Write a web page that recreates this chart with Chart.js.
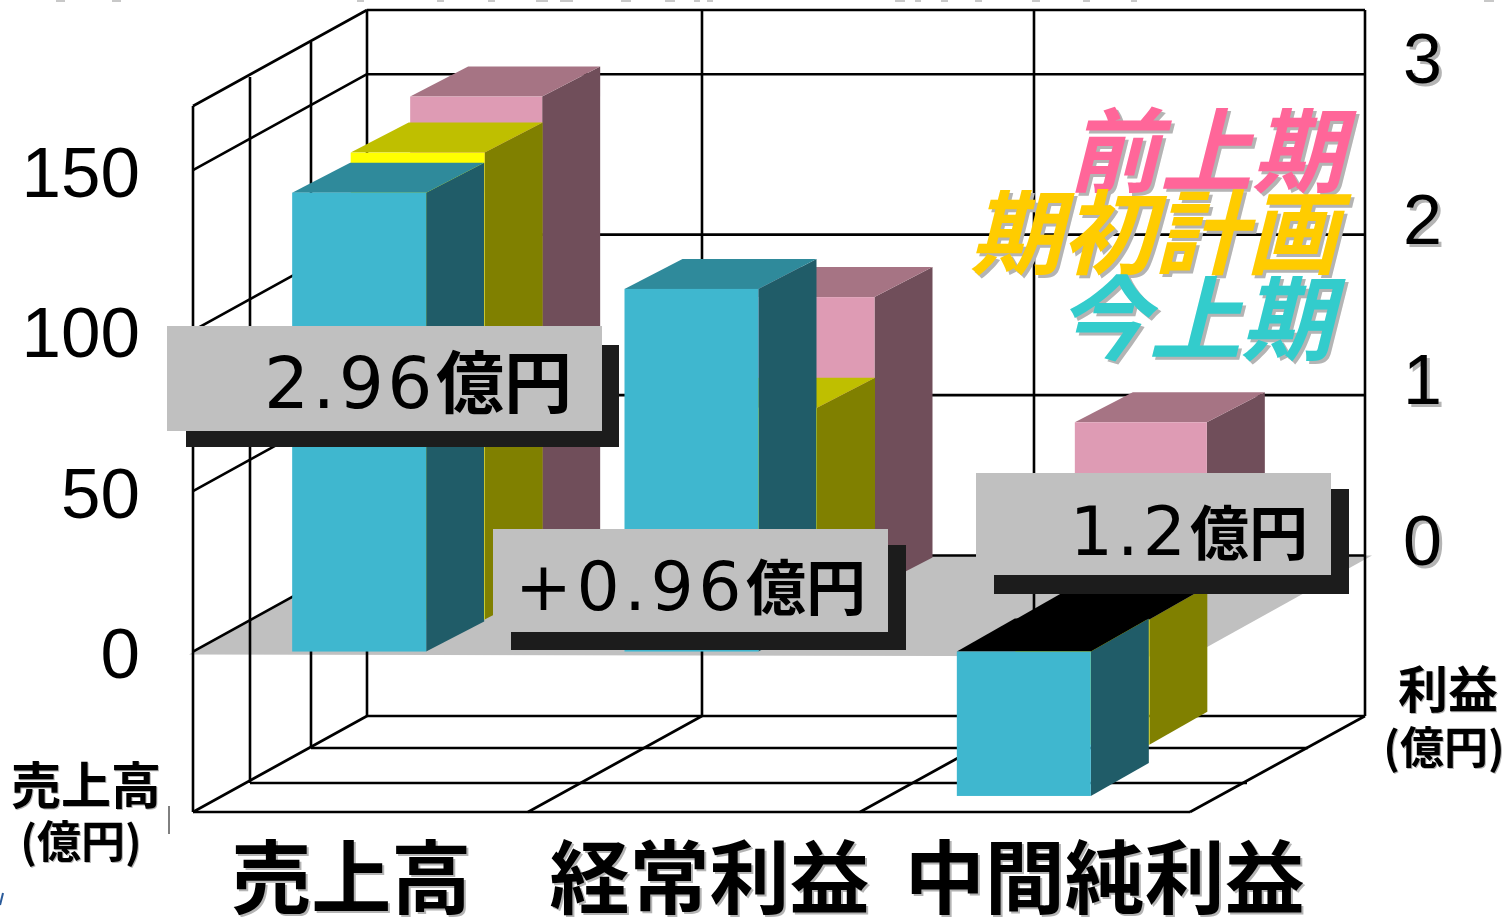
<!DOCTYPE html>
<html lang="ja">
<head>
<meta charset="utf-8">
<title>業績グラフ</title>
<script src="https://cdn.jsdelivr.net/npm/chart.js@4"></script>
<style>
  html, body { margin: 0; padding: 0; background: #fff; overflow: hidden; }
  #wrap { position: relative; width: 1506px; height: 917px; }
</style>
</head>
<body>
<div id="wrap"><canvas id="resultChart"></canvas></div>
<script>
const categories = ['売上高', '経常利益', '中間純利益'];
const seriesLabels = ['今上期', '期初計画', '前上期'];

// sales on the left axis, profits on the right axis
const salesNow = [143, null, null];
const salesPlan = [145.5, null, null];
const salesPrev = [153, null, null];
const profitNow = [null, 2.26, -0.9];
const profitPlan = [null, 1.32, -0.78];
const profitPrev = [null, 1.81, 1.03];

const salesTicks = [-50, 0, 50, 100, 150];
const profitTicks = [0, 1, 2, 3];
const salesTickText = [150, 100, 50, 0];

const wallLines = [-50, 0, 50, 100, 150, 170];
const callouts = [
    { num: '2.96', unit: '億円', box: [167, 326, 435, 105], shadow: [186, 345, 433, 102], end: 572, y: 408, numSize: 71, unitSize: 68, gap: 3.5 },
    { num: '+0.96', unit: '億円', box: [493, 529, 395, 103], shadow: [511, 545, 395, 105], end: 866, y: 610, numSize: 68, unitSize: 60, gap: 4.5 },
    { num: '1.2', unit: '億円', box: [976, 473, 355, 102], shadow: [994, 489, 355, 105], end: 1308, y: 555, numSize: 68, unitSize: 59, gap: 4 }
];

// bits of cut-off text along the top edge of the source image, [x, width]
const clippedMarks = [[56, 9], [112, 9], [357, 7], [437, 7], [488, 7], [536, 12], [560, 13], [621, 10], [665, 10],
    [694, 6], [707, 6], [895, 10], [915, 6], [941, 7], [975, 7], [1032, 8], [1083, 7], [1131, 6], [1484, 10]];

const CJK = '"Noto Sans CJK JP"';
const DEPTH_X = 174, DEPTH_Y = 96;
const floorStepsX = [57, 118], floorStepsY = [29, 64];
const dividers = [0.336, 0.669];
const BAR_STEP_X = 58.5, BAR_STEP_Y = 32, BAR_SIDE_X = 58, BAR_SIDE_Y = 30;
const barWidths = [134, 134, 132];

const palette = [
    { front: '#3fb7cf', top: '#2f8a9b', side: '#205c68' },
    { front: '#ffff00', top: '#bfbf00', side: '#808000' },
    { front: '#de9bb4', top: '#a67484', side: '#704e5a' }
];
const legendColors = ['#33cccc', '#ffcc00', '#ff6699'];

function poly(ctx, pts, color) {
    ctx.fillStyle = color;
    ctx.beginPath();
    pts.forEach((p, i) => i ? ctx.lineTo(p[0], p[1]) : ctx.moveTo(p[0], p[1]));
    ctx.closePath();
    ctx.fill();
}

function line(ctx, x1, y1, x2, y2) {
    ctx.beginPath();
    ctx.moveTo(x1, y1);
    ctx.lineTo(x2, y2);
    ctx.stroke();
}

function shadowText(ctx, text, x, y, font, color, align, off) {
    ctx.save();
    ctx.font = font;
    ctx.textAlign = align;
    ctx.textBaseline = 'alphabetic';
    ctx.shadowColor = '#b4b4b4';
    ctx.shadowOffsetX = off;
    ctx.shadowOffsetY = off;
    ctx.fillStyle = color;
    ctx.fillText(text, x, y);
    ctx.restore();
}

// back walls, floor and grid, all hung on the value scale
const wallPlugin = {
    id: 'walls',
    beforeDatasetsDraw(chart) {
        const ctx = chart.ctx;
        const { left, right, bottom, top } = chart.chartArea;
        const y = chart.scales.y;
        const zero = y.getPixelForValue(0);
        ctx.save();
        poly(ctx, [[left - 4, zero + 3], [left + DEPTH_X, zero - DEPTH_Y], [right + DEPTH_X + 8, zero - DEPTH_Y],
            [right, zero + 5]], '#c0c0c0');
        ctx.strokeStyle = '#000';
        ctx.lineWidth = 2.6;
        wallLines.forEach(v => {
            const py = y.getPixelForValue(v);
            line(ctx, left, py, left + DEPTH_X, py - DEPTH_Y);
            line(ctx, left + DEPTH_X, py - DEPTH_Y, right + DEPTH_X + 1, py - DEPTH_Y);
        });
        line(ctx, left, top, left, bottom);
        line(ctx, right + DEPTH_X + 1, top - DEPTH_Y, right + DEPTH_X + 1, bottom - DEPTH_Y);
        line(ctx, left + DEPTH_X, top - DEPTH_Y, left + DEPTH_X, bottom - DEPTH_Y);
        line(ctx, left, bottom, right, bottom);
        line(ctx, right, bottom, right + DEPTH_X + 1, bottom - DEPTH_Y);
        floorStepsX.forEach((dx, i) => {
            const dy = floorStepsY[i];
            line(ctx, left + dx, top - dy, left + dx, bottom - dy);
            line(ctx, left + dx, bottom - dy, right + dx, bottom - dy);
        });
        dividers.forEach(f => {
            const px = left + (right - left) * f;
            line(ctx, px, bottom, px + DEPTH_X, bottom - DEPTH_Y);
            line(ctx, px + DEPTH_X, bottom - DEPTH_Y, px + DEPTH_X, top - DEPTH_Y);
        });
        ctx.restore();
    }
};

// the library positions each bar, this only extrudes it
const barPlugin = {
    id: 'bars3d',
    beforeDatasetDraw(chart, args) {
        const ctx = chart.ctx;
        const ds = chart.data.datasets[args.index];
        const depth = ds.depth;
        const c = palette[depth];
        args.meta.data.forEach((bar, i) => {
            // null values still get a zero height element
            if (ds.data[i] === null) return;
            const negative = ds.data[i] < 0;
            const rise = negative ? BAR_STEP_Y + 1 : BAR_SIDE_Y;
            const x0 = bar.x - bar.width / 2 + depth * BAR_STEP_X;
            const x1 = x0 + bar.width;
            const yTop = Math.min(bar.y, bar.base) - depth * BAR_STEP_Y;
            const yBot = Math.max(bar.y, bar.base) - depth * BAR_STEP_Y;
            poly(ctx, [[x1, yTop], [x1 + BAR_SIDE_X, yTop - rise], [x1 + BAR_SIDE_X, yBot - rise], [x1, yBot]], c.side);
            poly(ctx, [[x0, yTop], [x0 + BAR_SIDE_X, yTop - rise], [x1 + BAR_SIDE_X, yTop - rise], [x1, yTop]],
                negative ? '#000' : c.top);
            ctx.fillStyle = c.front;
            ctx.fillRect(x0, yTop, bar.width, yBot - yTop);
        });
        return false;
    }
};

const notePlugin = {
    id: 'notes',
    afterDatasetsDraw(chart) {
        const ctx = chart.ctx;
        // colour key, back series first
        const key = [[2, 1344, 185], [1, 1338, 267], [0, 1333, 353]];
        key.forEach(k => {
            shadowText(ctx, seriesLabels[k[0]], k[1], k[2], 'italic bold 92px ' + CJK, legendColors[k[0]], 'right', 3);
        });
        callouts.forEach(c => {
            ctx.fillStyle = '#1c1c1c';
            ctx.fillRect(c.shadow[0], c.shadow[1], c.shadow[2], c.shadow[3]);
            ctx.fillStyle = '#c0c0c0';
            ctx.fillRect(c.box[0], c.box[1], c.box[2], c.box[3]);
            ctx.save();
            ctx.fillStyle = '#000';
            ctx.textAlign = 'right';
            ctx.textBaseline = 'alphabetic';
            ctx.font = 'bold ' + c.unitSize + 'px ' + CJK;
            ctx.fillText(c.unit, c.end, c.y);
            ctx.font = c.numSize + 'px "DejaVu Sans"';
            ctx.letterSpacing = c.gap + 'px';
            ctx.fillText(c.num, c.end - c.unitSize * 2, c.y);
            ctx.restore();
        });
        shadowText(ctx, '売上高', 86, 804, 'bold 50px ' + CJK, '#000', 'center', 1);
        shadowText(ctx, '(億円)', 81, 858, 'bold 44px ' + CJK, '#000', 'center', 1);
        shadowText(ctx, '利益', 1448, 708, 'bold 50px ' + CJK, '#000', 'center', 1);
        shadowText(ctx, '(億円)', 1444, 764, 'bold 44px ' + CJK, '#000', 'center', 1);

        // stray scraps left at the edges of the source image
        ctx.save();
        ctx.fillStyle = '#c8c8c8';
        clippedMarks.forEach(m => ctx.fillRect(m[0], 0, m[1], 2));
        ctx.strokeStyle = '#000';
        ctx.lineWidth = 1;
        line(ctx, 169, 806, 169, 834);
        ctx.strokeStyle = '#2a5a9a';
        ctx.lineWidth = 2;
        line(ctx, 3, 893, 0, 905);
        ctx.restore();
    }
};

// category names sit off-centre in the source, and some axis text has a drop shadow
const labelShift = [-8, 18, 81];
const RIGHT_TICK_SHIFT = 213;
const axisTextPlugin = {
    id: 'axisText',
    afterLayout(chart) {
        const x = chart.scales.x;
        const y1 = chart.scales.y1;
        x.getLabelItems().forEach((item, i) => { item.options.translation[0] += labelShift[i]; });
        y1.getLabelItems().forEach(item => { item.options.translation[0] += RIGHT_TICK_SHIFT; });
        [[x, 2], [y1, 3]].forEach(([scale, off]) => {
            const draw = scale.drawLabels;
            scale.drawLabels = function (area) {
                const ctx = this.ctx;
                ctx.save();
                ctx.shadowColor = '#b4b4b4';
                ctx.shadowOffsetX = off;
                ctx.shadowOffsetY = off;
                draw.call(this, area);
                ctx.restore();
            };
        });
    }
};

function barSet(label, data, axis, depth) {
    return {
        label: label,
        data: data,
        yAxisID: axis,
        depth: depth,
        grouped: false,
        barThickness: barWidths[depth],
        backgroundColor: palette[depth].front
    };
}

new Chart('resultChart', {
    type: 'bar',
    data: {
        labels: categories,
        datasets: [
            barSet(seriesLabels[0], salesNow, 'y', 0),
            barSet(seriesLabels[0], profitNow, 'y1', 0),
            barSet(seriesLabels[1], salesPlan, 'y', 1),
            barSet(seriesLabels[1], profitPlan, 'y1', 1),
            barSet(seriesLabels[2], salesPrev, 'y', 2),
            barSet(seriesLabels[2], profitPrev, 'y1', 2)
        ]
    },
    options: {
        responsive: true,
        maintainAspectRatio: false,
        animation: false,
        layout: { padding: { top: 106, left: 0, right: 0, bottom: 0 } },
        plugins: { legend: { display: false }, tooltip: { enabled: false } },
        scales: {
            x: {
                grid: { display: false, drawTicks: false },
                border: { display: false },
                ticks: {
                    autoSkip: false, minRotation: 0, maxRotation: 0, padding: 25, color: '#000',
                    font: { family: 'Noto Sans CJK JP', size: 80, weight: 'bold', lineHeight: 1 }
                },
                afterFit(s) { s.height = 105; }
            },
            y: {
                position: 'left',
                min: -50,
                max: 170,
                grid: { display: false, drawTicks: false },
                border: { display: false },
                afterBuildTicks(s) { s.ticks = salesTicks.map(v => ({ value: v })); },
                ticks: {
                    padding: 53, labelOffset: 7, color: '#000',
                    font: { family: 'Liberation Sans', size: 71 },
                    callback: v => salesTickText.includes(v) ? String(v) : ''
                },
                afterFit(s) { s.width = 193; }
            },
            y1: {
                position: 'right',
                min: -1,
                max: 3.4,
                grid: { display: false, drawTicks: false },
                border: { display: false },
                afterBuildTicks(s) { s.ticks = profitTicks.map(v => ({ value: v })); },
                ticks: {
                    padding: 0, labelOffset: -106, color: '#000',
                    font: { family: 'Liberation Sans', size: 70 }
                },
                afterFit(s) { s.width = 316; }
            }
        }
    },
    plugins: [wallPlugin, barPlugin, notePlugin, axisTextPlugin]
});
</script>
</body>
</html>
